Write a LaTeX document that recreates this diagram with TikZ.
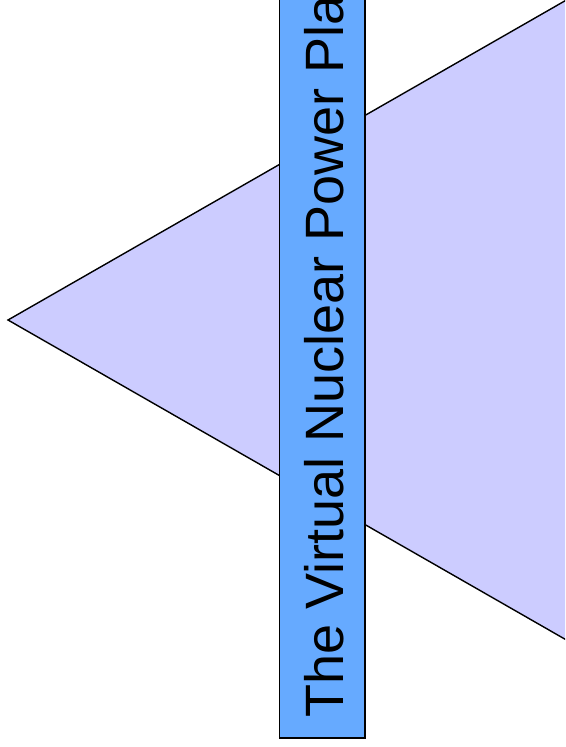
\documentclass[tikz,border=0pt]{standalone}
\usepackage{fontspec}
\setmainfont{Liberation Sans}
\usetikzlibrary{positioning}
\definecolor{wedgefill}{RGB}{204,204,255}
\definecolor{bannerfill}{RGB}{102,170,255}
\tikzset{banner/.style={draw=black,line width=1.4pt,fill=bannerfill},
  wedge/.style={draw=black,line width=1.4pt,fill=wedgefill,line join=miter}}
\begin{document}
\begin{tikzpicture}[x=1pt,y=-1pt]
\useasboundingbox (0,0) rectangle (565,747);
\clip (0,0) rectangle (565,747);
% --- wedge behind the banner
\draw[wedge] (8,320) -- (720,-88) -- (720,728) -- cycle;
% --- vertical banner, cut at the top
\draw[banner] (279.5,-20) rectangle (365,738);
\node[rotate=90,anchor=base west,inner sep=0pt,font=\fontsize{54}{60}\selectfont] (title) at (343,718) {The Virtual Nuclear Power Pla};
\end{tikzpicture}
\end{document}
